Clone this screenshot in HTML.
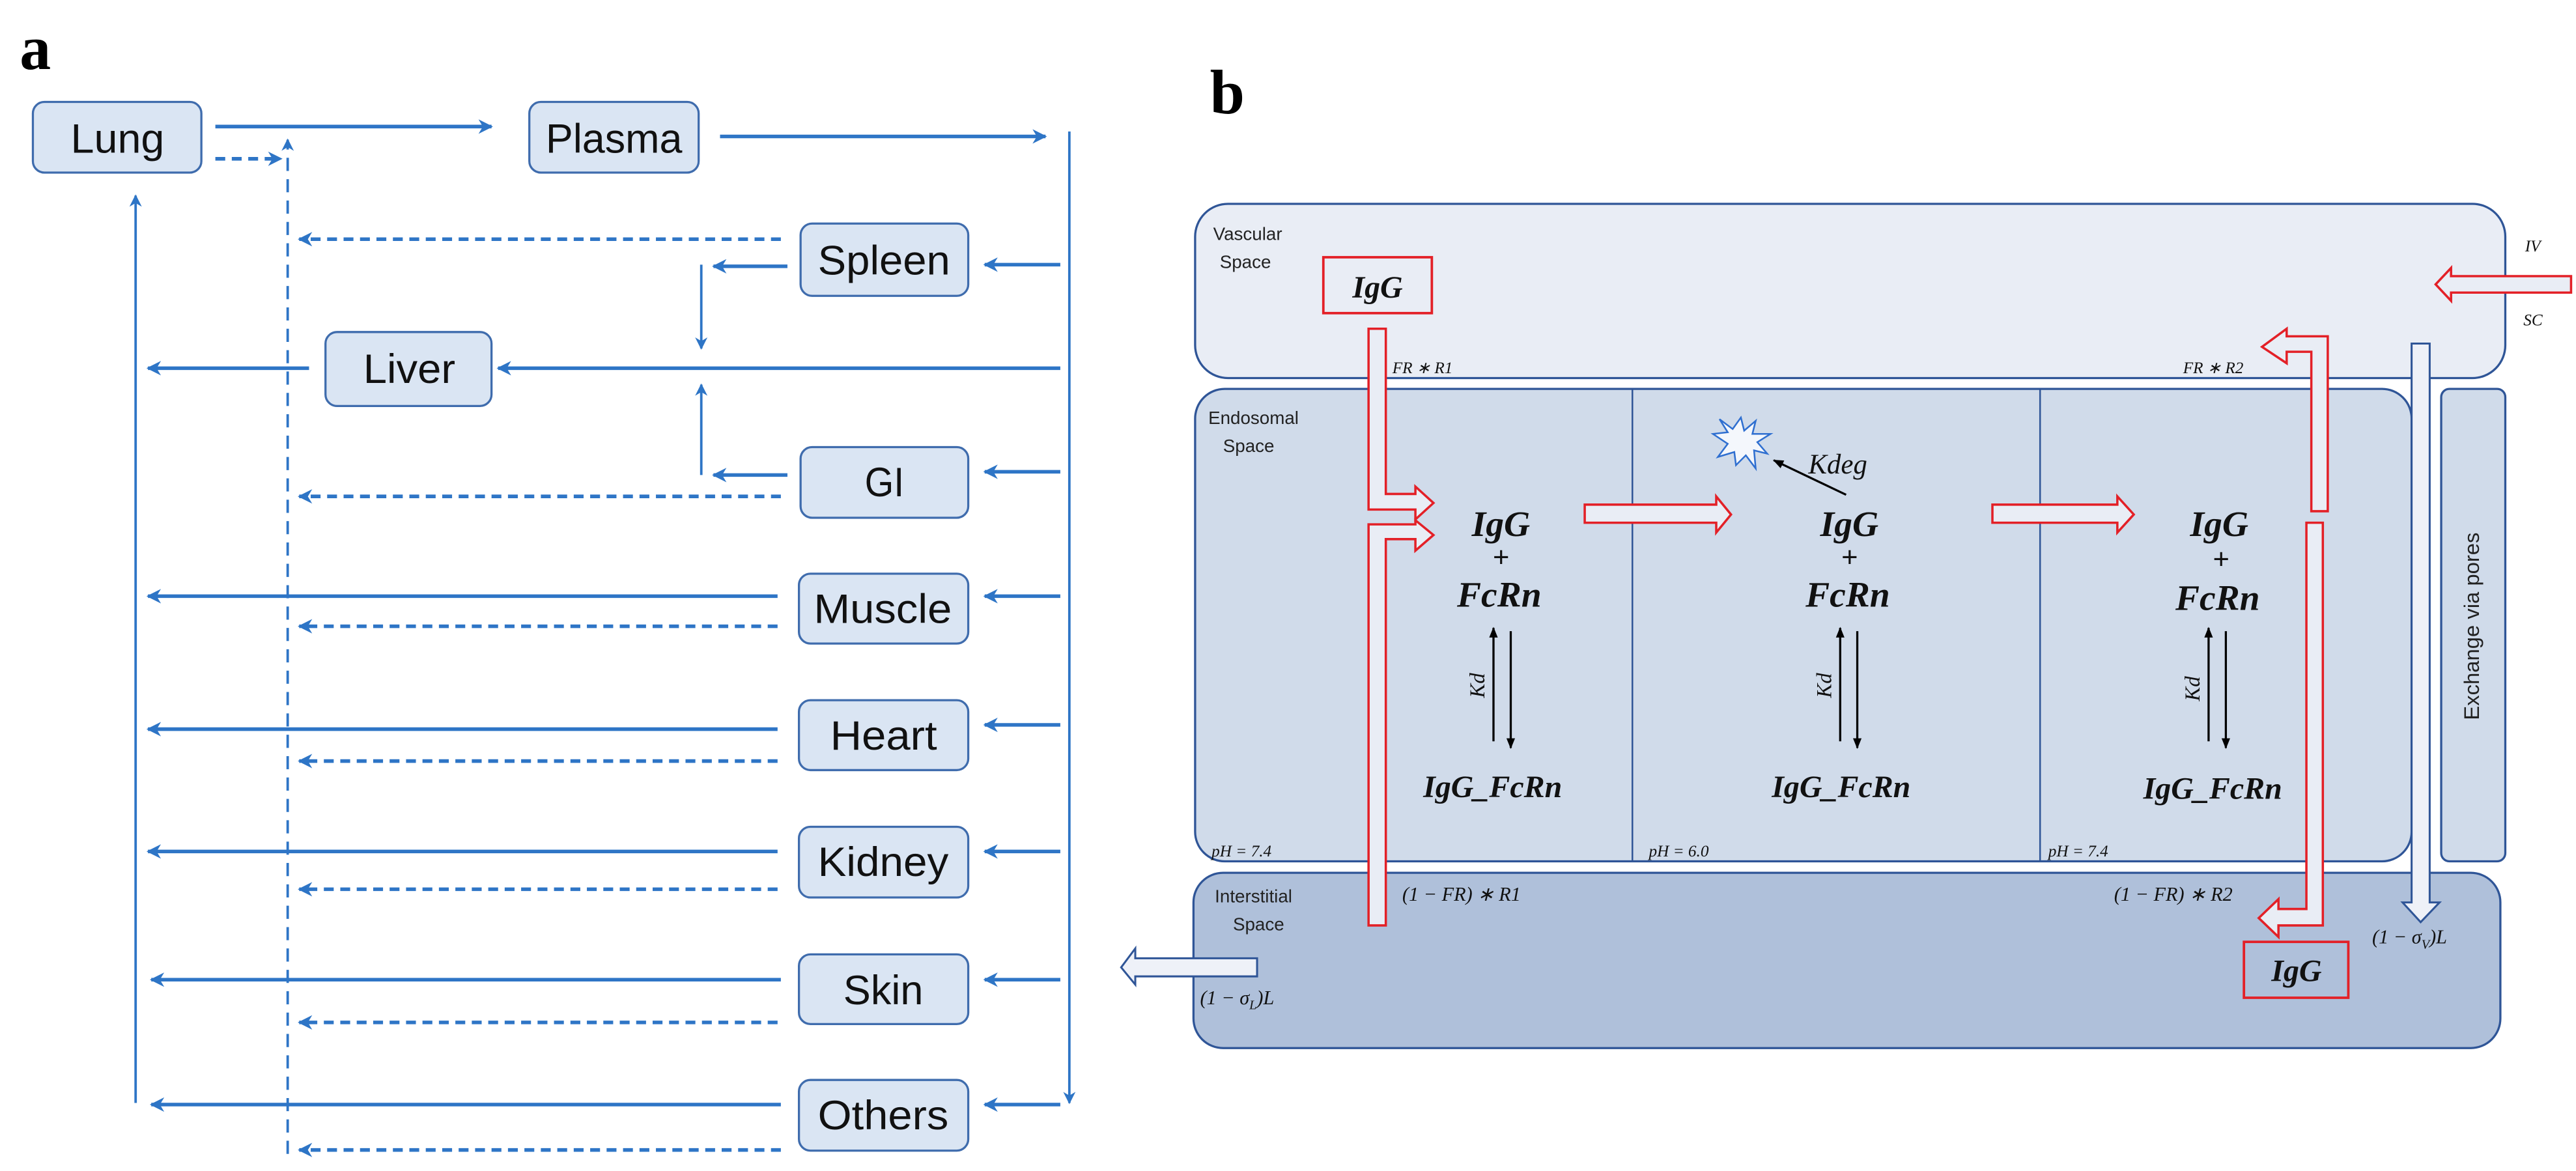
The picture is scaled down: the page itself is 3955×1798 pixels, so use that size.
<!DOCTYPE html>
<html><head><meta charset="utf-8"><style>
html,body{margin:0;padding:0;background:#fff;}
svg{display:block;}
.lbl{font-family:"Liberation Sans Narrow","Liberation Sans",sans-serif;font-size:25px;fill:#111;}
.m{font-family:"Liberation Serif",serif;font-style:italic;font-weight:bold;fill:#111;}
.mi{font-family:"Liberation Serif",serif;font-style:italic;fill:#111;}
.s{font-family:"Liberation Sans Narrow","Liberation Sans",sans-serif;fill:#222;font-size:11px;}
</style></head><body>
<svg width="3955" height="1798" viewBox="0 0 1567 712.4" preserveAspectRatio="none" xmlns="http://www.w3.org/2000/svg">
<defs>
<marker id="ah" viewBox="0 0 10 10" refX="9" refY="5" markerWidth="4" markerHeight="4" orient="auto" markerUnits="strokeWidth">
<path d="M0,0 L10,5 L0,10 L3,5 z" fill="#2e75c6"/></marker>
<marker id="ah2" viewBox="0 0 10 10" refX="9" refY="5" markerWidth="5" markerHeight="5" orient="auto" markerUnits="strokeWidth">
<path d="M0,0 L10,5 L0,10 L3,5 z" fill="#2e75c6"/></marker>
<marker id="bk" viewBox="0 0 10 10" refX="9" refY="5" markerWidth="5" markerHeight="6" orient="auto" markerUnits="strokeWidth">
<path d="M0,1 L10,5 L0,9 z" fill="#000"/></marker>
</defs>

<!-- Panel a -->
<text x="12" y="42" font-family="Liberation Serif,serif" font-weight="bold" font-size="38">a</text>
<g stroke="#2e75c6" fill="none">
<g stroke-width="2.2">
<line x1="131" y1="77" x2="299" y2="77" marker-end="url(#ah)"/>
<line x1="438" y1="83" x2="636" y2="83" marker-end="url(#ah)"/>
<line x1="82.5" y1="671" x2="82.5" y2="119" stroke-width="1.5" marker-end="url(#ah2)"/>
<line x1="650.5" y1="80" x2="650.5" y2="671" stroke-width="1.5" marker-end="url(#ah2)"/>
<line x1="645" y1="161" x2="599" y2="161" marker-end="url(#ah)"/>
<line x1="645" y1="224" x2="303" y2="224" marker-end="url(#ah)"/>
<line x1="645" y1="287" x2="599" y2="287" marker-end="url(#ah)"/>
<line x1="645" y1="362.7" x2="599" y2="362.7" marker-end="url(#ah)"/>
<line x1="645" y1="441" x2="599" y2="441" marker-end="url(#ah)"/>
<line x1="645" y1="518" x2="599" y2="518" marker-end="url(#ah)"/>
<line x1="645" y1="596" x2="599" y2="596" marker-end="url(#ah)"/>
<line x1="645" y1="672" x2="599" y2="672" marker-end="url(#ah)"/>
<line x1="188" y1="224" x2="90" y2="224" marker-end="url(#ah)"/>
<line x1="479" y1="162" x2="434" y2="162" marker-end="url(#ah)"/>
<line x1="479" y1="289" x2="434" y2="289" marker-end="url(#ah)"/>
<line x1="426.6" y1="161" x2="426.6" y2="212" stroke-width="1.5" marker-end="url(#ah2)"/>
<line x1="426.6" y1="289" x2="426.6" y2="234" stroke-width="1.5" marker-end="url(#ah2)"/>
<line x1="473" y1="362.7" x2="90" y2="362.7" marker-end="url(#ah)"/>
<line x1="473" y1="443.6" x2="90" y2="443.6" marker-end="url(#ah)"/>
<line x1="473" y1="518" x2="90" y2="518" marker-end="url(#ah)"/>
<line x1="475" y1="596" x2="92" y2="596" marker-end="url(#ah)"/>
<line x1="475" y1="672" x2="92" y2="672" marker-end="url(#ah)"/>
</g>
<g stroke-width="2.2" stroke-dasharray="6,4">
<line x1="131" y1="96.6" x2="171" y2="96.6" marker-end="url(#ah)"/>
<line x1="475" y1="145.5" x2="182" y2="145.5" marker-end="url(#ah)"/>
<line x1="475" y1="302" x2="182" y2="302" marker-end="url(#ah)"/>
<line x1="473" y1="381" x2="182" y2="381" marker-end="url(#ah)"/>
<line x1="473" y1="463" x2="182" y2="463" marker-end="url(#ah)"/>
<line x1="473" y1="541" x2="182" y2="541" marker-end="url(#ah)"/>
<line x1="473" y1="622" x2="182" y2="622" marker-end="url(#ah)"/>
<line x1="475" y1="699.6" x2="182" y2="699.6" marker-end="url(#ah)"/>
</g>
<line x1="175" y1="702" x2="175" y2="85" stroke-width="1.5" stroke-dasharray="8,5" marker-end="url(#ah2)"/>
</g>
<g fill="#dae5f3" stroke="#3f6cad" stroke-width="1.3">
<rect x="20" y="62" width="102.5" height="43" rx="7"/>
<rect x="322" y="62" width="103" height="43" rx="7"/>
<rect x="487" y="136" width="102" height="44" rx="7"/>
<rect x="198" y="202" width="101" height="45" rx="7"/>
<rect x="487" y="272" width="102" height="43" rx="7"/>
<rect x="486" y="349" width="103" height="42.5" rx="7"/>
<rect x="486" y="426" width="103" height="42.5" rx="7"/>
<rect x="486" y="503" width="103" height="43" rx="7"/>
<rect x="486" y="580.6" width="103" height="42.4" rx="7"/>
<rect x="486" y="657" width="103" height="43" rx="7"/>
</g>
<g class="lbl" text-anchor="start">
<text x="43" y="93" textLength="57" lengthAdjust="spacingAndGlyphs">Lung</text>
<text x="332" y="93" textLength="83" lengthAdjust="spacingAndGlyphs">Plasma</text>
<text x="497.5" y="167" textLength="80.5" lengthAdjust="spacingAndGlyphs">Spleen</text>
<text x="221" y="233" textLength="56" lengthAdjust="spacingAndGlyphs">Liver</text>
<text x="526" y="302" textLength="24" lengthAdjust="spacingAndGlyphs">GI</text>
<text x="495" y="379" textLength="84" lengthAdjust="spacingAndGlyphs">Muscle</text>
<text x="505" y="456" textLength="65" lengthAdjust="spacingAndGlyphs">Heart</text>
<text x="497.5" y="533" textLength="79.5" lengthAdjust="spacingAndGlyphs">Kidney</text>
<text x="513" y="611" textLength="48.6" lengthAdjust="spacingAndGlyphs">Skin</text>
<text x="497.5" y="687" textLength="79.5" lengthAdjust="spacingAndGlyphs">Others</text>
</g>

<!-- Panel b -->
<text x="736" y="69" font-family="Liberation Serif,serif" font-weight="bold" font-size="38">b</text>
<g stroke="#2f5597" stroke-width="1.3">
<rect x="727" y="124" width="797" height="106" rx="20" fill="#e9edf5"/>
<rect x="727" y="236.6" width="740" height="287.4" rx="18" fill="#d0dbea"/>
<rect x="1485" y="236.6" width="39" height="287.4" rx="5" fill="#d0dbea"/>
<rect x="726" y="531" width="795" height="106.6" rx="18" fill="#afc0da"/>
<line x1="993" y1="236.6" x2="993" y2="524" stroke-width="1"/>
<line x1="1241" y1="236.6" x2="1241" y2="524" stroke-width="1"/>
</g>
<g class="s">
<text x="738" y="146">Vascular</text><text x="742" y="163">Space</text>
<text x="735" y="258">Endosomal</text><text x="744" y="275">Space</text>
<text x="739" y="549">Interstitial</text><text x="750" y="566">Space</text>
</g>
<g class="mi" font-size="10">
<text x="737" y="521">pH = 7.4</text>
<text x="1003" y="521">pH = 6.0</text>
<text x="1246" y="521">pH = 7.4</text>
<text x="847" y="227">FR ∗ R1</text>
<text x="1328" y="227">FR ∗ R2</text>
<text x="853" y="548" font-size="12">(1 − FR) ∗ R1</text>
<text x="1286" y="548" font-size="12">(1 − FR) ∗ R2</text>
<text x="1536" y="153">IV</text>
<text x="1535" y="198">SC</text>
<text x="1443" y="574" font-size="12">(1 − σ<tspan font-size="8" dy="3">V</tspan><tspan dy="-3">)L</tspan></text>
<text x="730" y="611" font-size="12">(1 − σ<tspan font-size="8" dy="3">L</tspan><tspan dy="-3">)L</tspan></text>
</g>
<text x="1508" y="381" font-family="Liberation Sans,sans-serif" font-size="13" fill="#222" text-anchor="middle" transform="rotate(-90 1508 381)">Exchange via pores</text>

<rect x="805" y="156.5" width="66" height="34" fill="none" stroke="#e32027" stroke-width="1.5"/>
<text x="838" y="181" class="m" font-size="19" text-anchor="middle">IgG</text>
<rect x="1365" y="573" width="63.5" height="34" fill="none" stroke="#e32027" stroke-width="1.5"/>
<text x="1397" y="597" class="m" font-size="19" text-anchor="middle">IgG</text>

<g fill="#eef1f8" stroke="#2f5597" stroke-width="1.2">
<polygon points="1467,209 1478,209 1478,549 1484,549 1472.5,561 1461.5,549 1467,549"/>
<polygon points="764.7,583 690.6,583 690.6,577 682,588.5 690.6,599 690.6,594 764.7,594"/>
</g>

<g fill="#e9edf5" stroke="#e32027" stroke-width="1.4">
<polygon points="832.5,200 843,200 843,300.5 861,300.5 861,296 872,306 861,316 861,310 832.5,310"/>
<polygon points="832.5,563 843,563 843,328 861,328 861,335 872,325.5 861,316.5 861,319 832.5,319"/>
<polygon points="964,307 1044,307 1044,302 1053,313 1044,324 1044,318 964,318"/>
<polygon points="1212,307 1288,307 1288,302 1298,313 1288,324 1288,318 1212,318"/>
<polygon points="1416,311 1406,311 1406,214 1391,214 1391,221 1376,211 1391,200 1391,204.6 1416,204.6"/>
<polygon points="1413,318 1403,318 1403,553 1386,553 1386,547 1374,558.5 1386,570 1386,563 1413,563"/>
<polygon points="1564,168 1491,168 1491,163 1481.6,173 1491,183 1491,178 1564,178"/>
</g>

<g class="m" text-anchor="middle">
<text x="913" y="326" font-size="22">IgG</text>
<text x="913" y="345" font-size="18">+</text>
<text x="912" y="369" font-size="22">FcRn</text>
<text x="908" y="485" font-size="19">IgG_FcRn</text>
<text x="1125" y="326" font-size="22">IgG</text>
<text x="1125" y="345" font-size="18">+</text>
<text x="1124" y="369" font-size="22">FcRn</text>
<text x="1120" y="485" font-size="19">IgG_FcRn</text>
<text x="1350" y="326" font-size="22">IgG</text>
<text x="1351" y="346" font-size="18">+</text>
<text x="1349" y="371" font-size="22">FcRn</text>
<text x="1346" y="486" font-size="19">IgG_FcRn</text>
</g>
<text x="1100" y="288" class="mi" font-size="17">Kdeg</text>
<g stroke="#000" stroke-width="1.3">
<line x1="908.5" y1="451" x2="908.5" y2="382" marker-end="url(#bk)"/>
<line x1="919" y1="384" x2="919" y2="455" marker-end="url(#bk)"/>
<line x1="1119.4" y1="451" x2="1119.4" y2="382" marker-end="url(#bk)"/>
<line x1="1129.8" y1="384" x2="1129.8" y2="455" marker-end="url(#bk)"/>
<line x1="1343.5" y1="451" x2="1343.5" y2="382" marker-end="url(#bk)"/>
<line x1="1354" y1="384" x2="1354" y2="455" marker-end="url(#bk)"/>
<line x1="1123" y1="301" x2="1079" y2="280" marker-end="url(#bk)"/>
</g>
<g class="mi" font-size="13">
<text transform="translate(903 417) rotate(-90)" text-anchor="middle">Kd</text>
<text transform="translate(1114 417) rotate(-90)" text-anchor="middle">Kd</text>
<text transform="translate(1338 419) rotate(-90)" text-anchor="middle">Kd</text>
</g>
<polygon points="1059,254 1061,262 1068,256 1066,264 1077,264 1069,269 1075,276 1067,274 1068,285 1062,277 1056,283 1055,275 1045,278 1051,270 1042,264 1051,263 1046,255 1054,261" fill="#f4f7fc" stroke="#2f6fd0" stroke-width="1"/>
</svg>
</body></html>
